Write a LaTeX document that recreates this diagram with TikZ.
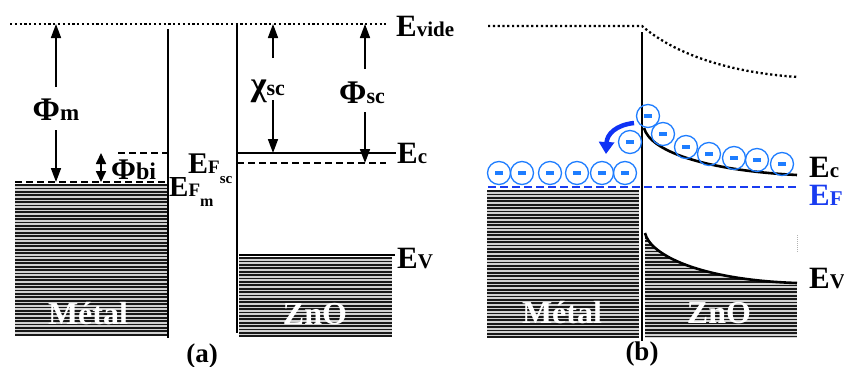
\documentclass[tikz,border=0pt]{standalone}
\usepackage{fontspec}
\setmainfont{Liberation Serif}
\usetikzlibrary{arrows.meta}
\newcommand{\fsz}[1]{\fontsize{#1}{#1}\selectfont}
\definecolor{eblue}{RGB}{30,125,255}
\definecolor{efblue}{RGB}{25,60,240}
\definecolor{arrblue}{RGB}{15,50,245}
\newcommand{\hatchbox}[4]{%
  \fill[gray!35] (#1,#2) rectangle (#3,#4);
  \begin{scope}
    \clip (#1,#2) rectangle (#3,#4);
    \foreach \k in {0,...,50} \draw[stripeline] (#1,{#2+1+\k*3.4}) -- (#3,{#2+1+\k*3.4});
  \end{scope}}
\begin{document}
\begin{tikzpicture}[x=1pt,y=-1pt,
  lvldash/.style={dash pattern=on 7pt off 4pt, line width=1.8pt},
  lvldot/.style={dash pattern=on 2.2pt off 2.6pt, line width=2.3pt},
  vline/.style={line width=2.2pt},
  bandline/.style={line width=2.6pt},
  arr/.style={-{Triangle[width=10pt,length=14pt]}, line width=1.7pt},
  arrsmall/.style={{Triangle[width=10pt,length=11pt]}-{Triangle[width=10pt,length=11pt]}, line width=1.7pt},
  lbl/.style={inner sep=0pt, font=\bfseries},
  stripeline/.style={line width=1.8pt, black!90},
  bandtext/.style={inner sep=0pt, text=white, font=\bfseries\fsz{32}},
  elec/.style={circle, draw=eblue, line width=1.3pt, minimum size=23pt, inner sep=0pt},
]
\useasboundingbox (0,0) rectangle (844,367);

% ================= panel (a) =================
\coordinate (vaL) at (10,24);
\coordinate (vaR) at (386,24);
\draw[lvldot] (vaL) -- (vaR);
\node[lbl, anchor=base west] (evideA) at (396,36) {\fsz{31}E\fsz{21}vide};

% metal
\hatchbox{15}{184}{167}{336}
\coordinate (efmL) at (15,182);
\coordinate (efmR) at (168,182);
\draw[lvldash] (efmL) -- (efmR);
\coordinate (mtop) at (168,29);
\coordinate (mbot) at (168,338);
\draw[vline] (mtop) -- (mbot);
\coordinate (biL) at (118,153);
\coordinate (biR) at (168,153);
\draw[lvldash] (biL) -- (biR);
\node[bandtext, anchor=base] (metalA) at (88,324) {Métal};

% Phi_m
\coordinate (pmTop) at (56,24);
\coordinate (pmBot) at (56,182);
\coordinate (pmA) at (56,87);
\coordinate (pmB) at (56,130);
\draw[arr] (pmA) -- (pmTop);
\draw[arr] (pmB) -- (pmBot);
\node[lbl, anchor=base] (phim) at (56,120) {\fsz{33}Φ\fsz{23}m};

% Phi_bi
\coordinate (pbTop) at (101,153);
\coordinate (pbBot) at (101,182);
\draw[arrsmall] (pbTop) -- (pbBot);
\node[lbl, anchor=base west] (phibi) at (111,179) {\fsz{30}Φ\fsz{24}bi};

% Fermi labels
\node[lbl, anchor=base west] (efsc) at (188,173) {\fsz{30}E\fsz{19}F\raisebox{-10pt}{\fsz{15}sc}};
\node[lbl, anchor=base west] (efm) at (169,196) {\fsz{29}E\fsz{19}F\raisebox{-10pt}{\fsz{16}m}};

% ZnO
\coordinate (ztop) at (237,24);
\coordinate (zbot) at (237,333);
\draw[vline] (ztop) -- (zbot);
\coordinate (ecL) at (237,153);
\coordinate (ecR) at (396,153);
\draw[bandline] (ecL) -- (ecR);
\node[lbl, anchor=base west] (ecA) at (397,163) {\fsz{31}E\fsz{21}c};
\coordinate (efscL) at (237,163);
\coordinate (efscR) at (386,163);
\draw[lvldash] (efscL) -- (efscR);
\hatchbox{239}{257}{392}{336}
\coordinate (evL) at (239,255);
\coordinate (evR) at (395,255);
\draw[bandline] (evL) -- (evR);
\node[lbl, anchor=base west] (evA) at (397,268) {\fsz{31}E\fsz{21}V};
\node[bandtext, anchor=base] (znoA) at (315,324) {ZnO};

% chi_sc
\coordinate (chTop) at (273,24);
\coordinate (chBot) at (273,153);
\coordinate (chA) at (273,58);
\coordinate (chB) at (273,100);
\draw[arr] (chA) -- (chTop);
\draw[arr] (chB) -- (chBot);
\node[lbl, anchor=base] (chi) at (268,95) {\fsz{34}χ\fsz{22}sc};

% Phi_sc
\coordinate (psTop) at (365,24);
\coordinate (psBot) at (365,163);
\coordinate (psA) at (365,69);
\coordinate (psB) at (365,112);
\draw[arr] (psA) -- (psTop);
\draw[arr] (psB) -- (psBot);
\node[lbl, anchor=base] (phisc) at (362,103) {\fsz{33}Φ\fsz{22}sc};

\node[lbl, anchor=base] (capa) at (202,362) {\fsz{27}(a)};

% ================= panel (b) =================
\coordinate (vbL) at (488,26);
\coordinate (vbM) at (642,26);
\coordinate (vbR) at (798,77);
\draw[lvldot] (vbL) -- (vbM) .. controls (670,50) and (720,72) .. (vbR);

\hatchbox{487}{190}{639}{338}
\begin{scope}
  \clip (645,233) .. controls (650,255) and (700,280) .. (797,283) -- (797,338) -- (645,338) -- cycle;
  \fill[gray!35] (645,230) rectangle (797,338);
  \foreach \k in {0,...,35} \draw[stripeline] (645,{231+\k*3.4}) -- (797,{231+\k*3.4});
\end{scope}
\node[bandtext, anchor=base] (metalB) at (562,323) {Métal};
\node[bandtext, anchor=base] (znoB) at (719,323) {ZnO};

\coordinate (bTop) at (642,32);
\coordinate (bBot) at (642,341);
\draw[vline] (bTop) -- (bBot);

\coordinate (ecb0) at (644,128);
\coordinate (ecb1) at (797,175);
\draw[bandline] (ecb0) .. controls (650,150) and (700,170) .. (ecb1);
\coordinate (evb0) at (645,233);
\coordinate (evb1) at (797,283);
\draw[bandline] (evb0) .. controls (650,255) and (700,280) .. (evb1);
\coordinate (efbL) at (488,187);
\coordinate (efbR) at (797,187);
\draw[efblue, dash pattern=on 8pt off 4pt, line width=2.8pt] (efbL) -- (efbR);
\coordinate (artA) at (797,235);
\coordinate (artB) at (797,253);
\draw[gray!60, line width=0.6pt, dash pattern=on 1pt off 1pt] (artA) -- (artB);

\node[lbl, anchor=base west] (ecB) at (809,177) {\fsz{31}E\fsz{21}c};
\node[lbl, anchor=base west, text=efblue] (efB) at (809,205) {\fsz{31}E\fsz{21}F};
\node[lbl, anchor=base west] (evB) at (809,288) {\fsz{31}E\fsz{21}V};

% electrons
\foreach \n/\x/\y in {1/499/173, 2/522/173, 3/550/173, 4/577/173, 5/602/173, 6/625/173,
                      7/630/142, 8/648/116, 9/663/134, 10/686/147, 11/709/154, 12/734/158, 13/757/160, 14/782/164}
  \node[elec] (el\n) at (\x,\y) {\textcolor{eblue}{\rule{8pt}{3.5pt}}};

% blue arrow
\coordinate (baS) at (634,123);
\coordinate (baE) at (606,154);
\draw[arrblue, line width=4.5pt, -{Triangle[width=15pt,length=12pt]}] (baS) .. controls (616,125) and (607,134) .. (baE);

\node[lbl, anchor=base] (capb) at (642,360) {\fsz{27}(b)};
\end{tikzpicture}
\end{document}
